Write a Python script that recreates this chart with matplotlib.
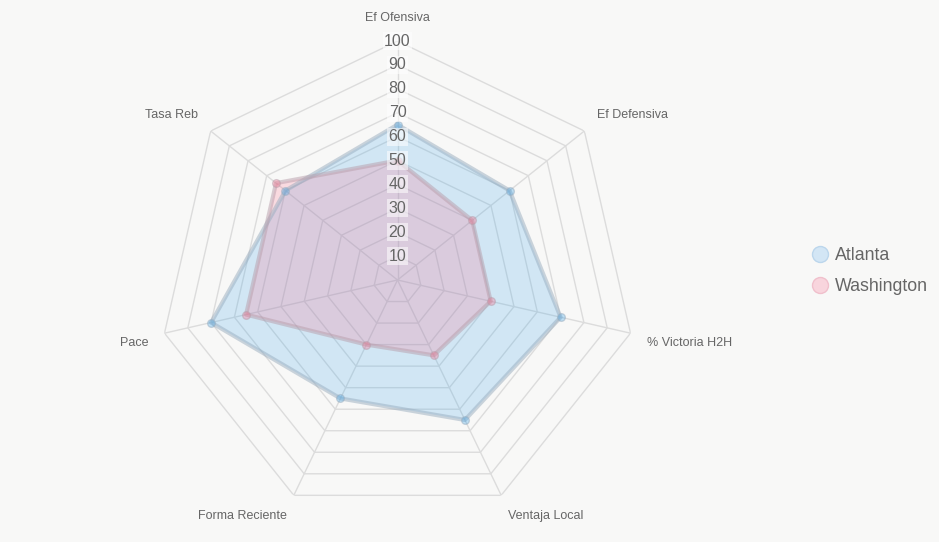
import numpy as np
import matplotlib
matplotlib.use("Agg")
import matplotlib.pyplot as plt
from matplotlib.lines import Line2D

plt.rcParams['font.family'] = ['Liberation Sans', 'DejaVu Sans']

categories = ["Ef Ofensiva", "Ef Defensiva", "% Victoria H2H", "Ventaja Local",
              "Forma Reciente", "Pace", "Tasa Reb"]
atlanta = [65, 60, 70, 65, 55, 80, 60]
washington = [50, 40, 40, 35, 30, 65, 65]
ticks = [10, 20, 30, 40, 50, 60, 70, 80, 90, 100]
series_names = ["Atlanta", "Washington"]

BG = "#f8f8f7"
W, H = 939, 542
fig = plt.figure(figsize=(W / 100, H / 100), dpi=100, facecolor=BG)

cx, cy, R = 397.5, 280, 239
ax = fig.add_axes([(cx - R) / W, 1 - (cy + R) / H, 2 * R / W, 2 * R / H], projection='polar')
ax.set_facecolor('none')
ax.set_theta_zero_location('N')
ax.set_theta_direction(-1)
ax.set_ylim(0, 100)
ax.grid(False)
ax.spines['polar'].set_visible(False)
ax.set_xticks([])
ax.set_yticks([])

n = len(categories)
theta = np.linspace(0, 2 * np.pi, n, endpoint=False)
theta_c = np.append(theta, theta[0])

grid_color = "#dcdcdc"
for t in ticks:
    ax.plot(theta_c, [t] * (n + 1), color=grid_color, lw=1, zorder=1)
for th in theta:
    ax.plot([th, th], [0, 100], color=grid_color, lw=1, zorder=1)

styles = [
    dict(fill=(54/255, 162/255, 235/255, 0.2), edge=(0.6, 0.68, 0.75, 0.5),
         pt=(54/255, 162/255, 235/255, 0.3), legend_face="#d3e6f5", legend_edge="#bcd6ec"),
    dict(fill=(255/255, 99/255, 132/255, 0.2), edge=(0.72, 0.62, 0.67, 0.5),
         pt=(255/255, 99/255, 132/255, 0.3), legend_face="#f8d5dd", legend_edge="#f0c0cc"),
]
for vals, st in zip([atlanta, washington], styles):
    v = np.append(vals, vals[0])
    ax.fill(theta_c, v, color=st['fill'], zorder=2, lw=0)
    ax.plot(theta_c, v, color=st['edge'], lw=3, zorder=3)
    ax.plot(theta, vals, 'o', ms=5.5, mfc=st['pt'], mec=st['edge'], mew=1, zorder=4, ls='none')

for t in ticks:
    ax.text(0, t, str(t), ha='center', va='center', fontsize=11.5, color='#666666', zorder=5,
            bbox=dict(boxstyle='square,pad=0.1', fc=(1, 1, 1, 0.55), ec='none'))

for th, lab in zip(theta, categories):
    deg = np.degrees(th)
    if abs(deg) < 1 or abs(deg - 180) < 1:
        ha = 'center'
    elif deg < 180:
        ha = 'left'
    else:
        ha = 'right'
    if deg < 90 or deg > 270:
        va = 'bottom'
    elif abs(deg - 90) < 1 or abs(deg - 270) < 1:
        va = 'center'
    else:
        va = 'top'
    ax.text(th, 107, lab, ha=ha, va=va, fontsize=9, color='#666666', clip_on=False)

handles = [Line2D([], [], ls='none', marker='o', ms=11.5, mfc=st['legend_face'], mec=st['legend_edge'], mew=1)
           for st in styles]
fig.legend(handles, series_names, loc='center left', bbox_to_anchor=(795 / W, 1 - 271 / H),
           frameon=False, fontsize=12.8, labelcolor='#666666', handletextpad=0.35, labelspacing=0.78,
           handlelength=1.0)

fig.savefig('out.png', dpi=100, facecolor=BG)
